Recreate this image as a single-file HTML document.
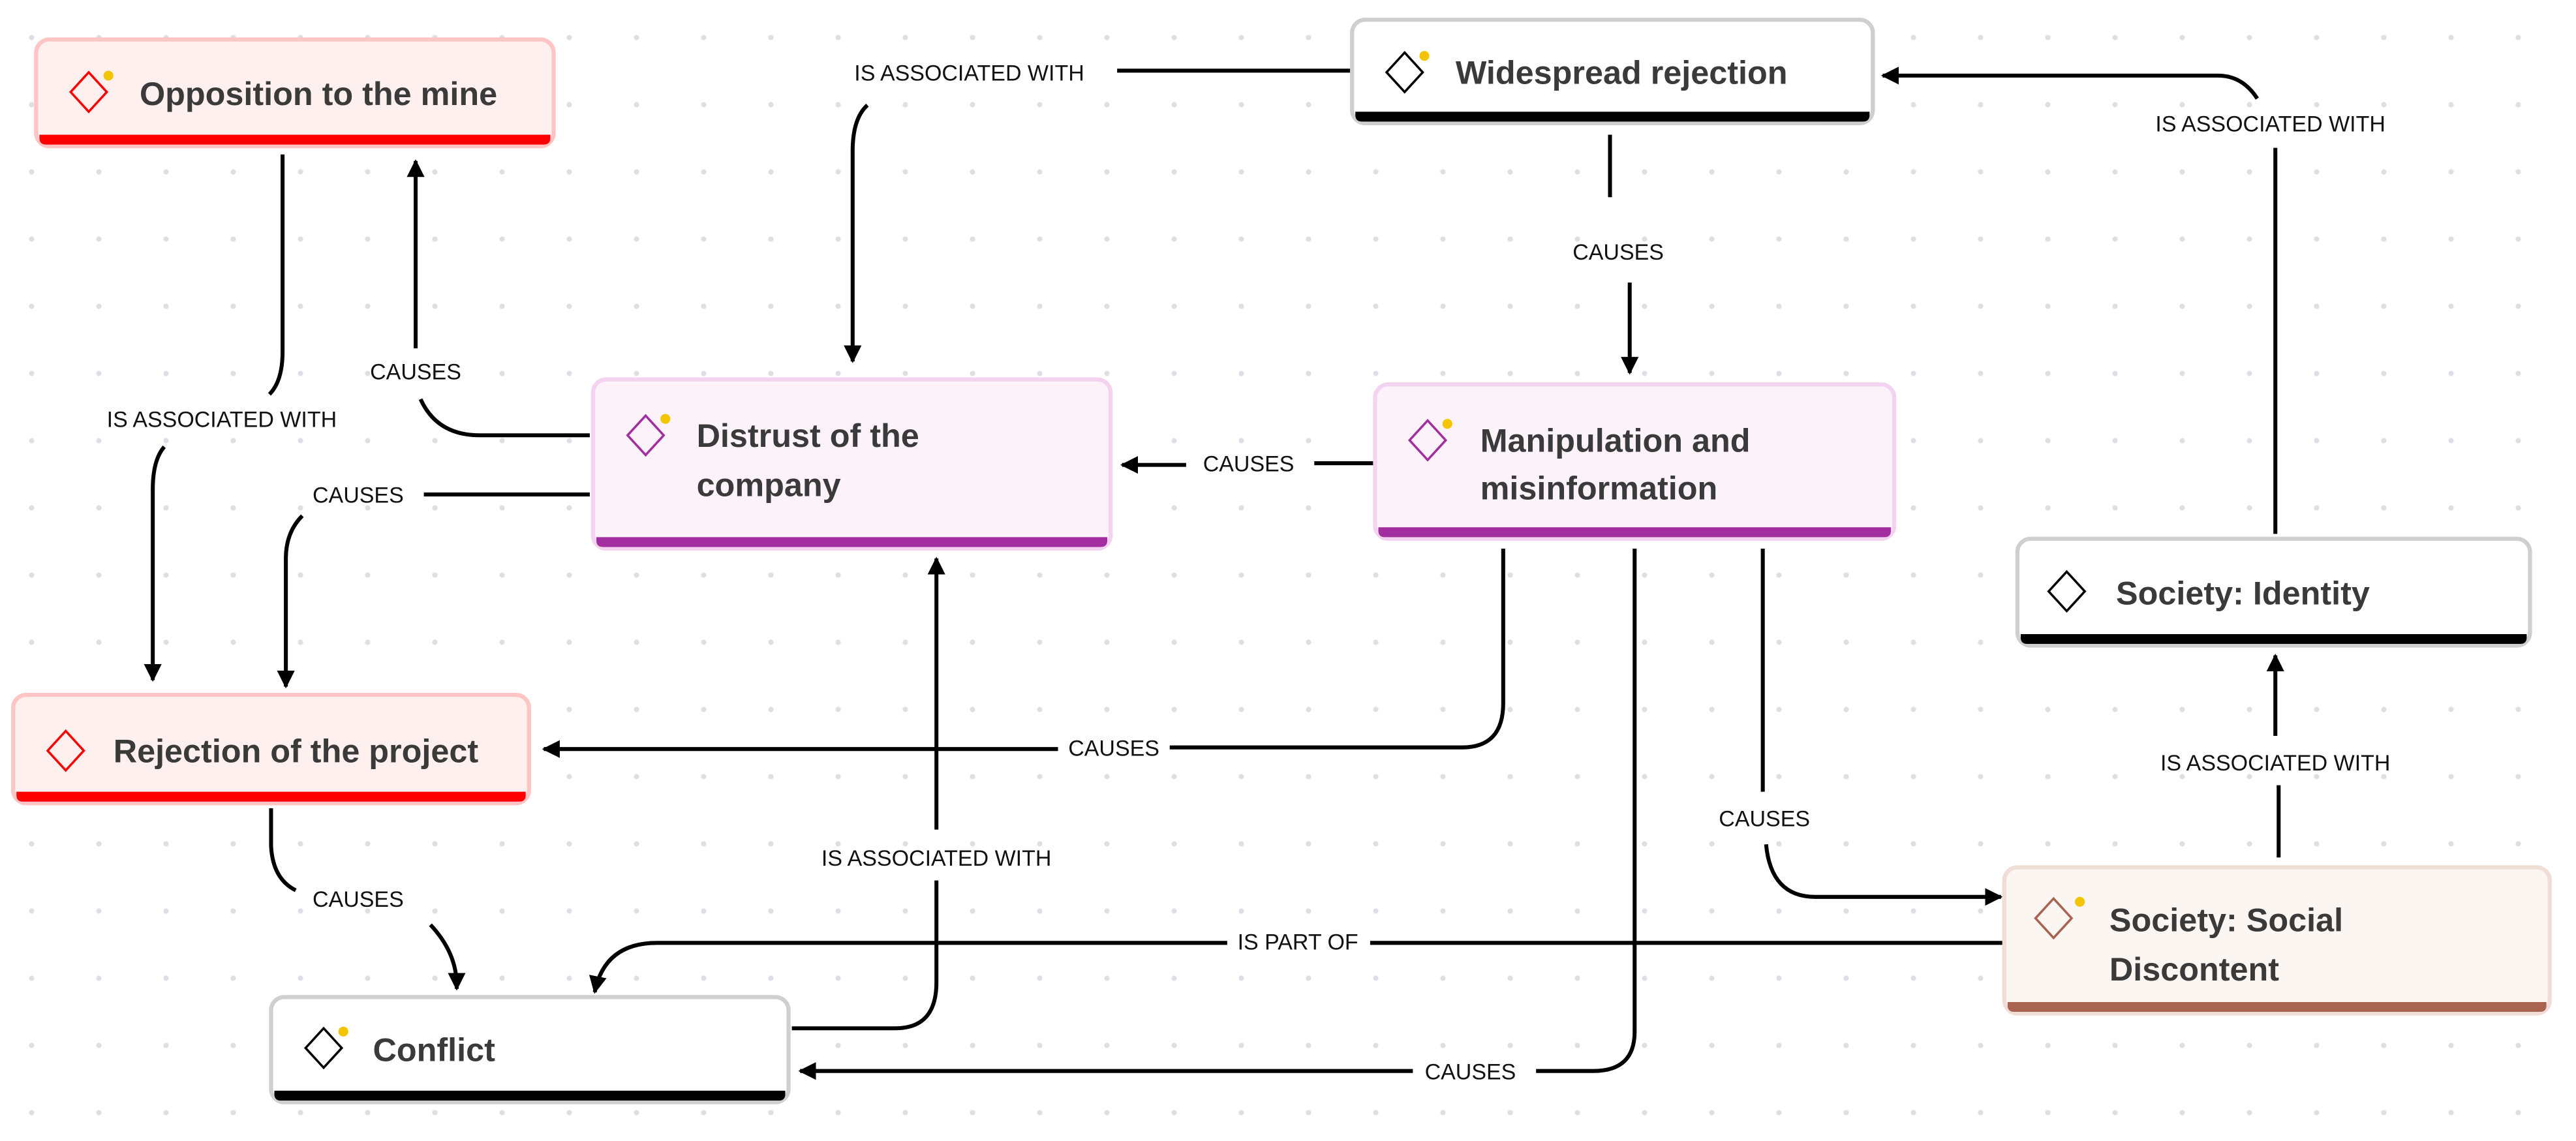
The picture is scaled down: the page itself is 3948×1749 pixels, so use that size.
<!DOCTYPE html>
<html><head><meta charset="utf-8"><style>
html,body{margin:0;padding:0;background:#fff;}
body{width:3948px;height:1749px;overflow:hidden;
background-image:radial-gradient(circle,#dedee4 3.5px,transparent 4.5px);
background-size:103px 103px;background-position:-3px 6px;}
svg{position:absolute;left:0;top:0;}
.nt{font-family:"Liberation Sans",sans-serif;font-size:20px;font-weight:bold;fill:#3a3a3a;}
.el{font-family:"Liberation Sans",sans-serif;font-size:13.5px;fill:#111;text-anchor:middle;}
.e{fill:none;stroke:#000;stroke-width:2.4;}
</style></head><body>
<svg width="3948" height="1749" viewBox="0 0 1568 694.6">
<defs>
<marker id="a" viewBox="0 0 10 10" refX="9" refY="5" markerWidth="4.5" markerHeight="4.5" orient="auto-start-reverse" markerUnits="strokeWidth">
<path d="M0,0 L10,5 L0,10 z" fill="#000"/></marker>
</defs>

<path class="e" d="M823,43 H680"/>
<text class="el" x="590" y="49">IS ASSOCIATED WITH</text>
<path class="e" d="M528,64 Q519,72 519,92 V220" marker-end="url(#a)"/>

<path class="e" d="M1385,325 V90"/>
<text class="el" x="1382" y="80">IS ASSOCIATED WITH</text>
<path class="e" d="M1374,60 Q1365,46 1350,46 H1146" marker-end="url(#a)"/>

<path class="e" d="M980,82 V120"/>
<text class="el" x="985" y="158">CAUSES</text>
<path class="e" d="M992,172 V227" marker-end="url(#a)"/>

<path class="e" d="M172,94 V214 Q172,232 164,240"/>
<text class="el" x="135" y="260">IS ASSOCIATED WITH</text>
<path class="e" d="M100,272 Q93,280 93,298 V414" marker-end="url(#a)"/>

<path class="e" d="M359,265 H292 Q266,265 256,243"/>
<text class="el" x="253" y="231">CAUSES</text>
<path class="e" d="M253,212 V98" marker-end="url(#a)"/>

<path class="e" d="M359,301 H258"/>
<text class="el" x="218" y="306">CAUSES</text>
<path class="e" d="M184,314 Q174,324 174,340 V418" marker-end="url(#a)"/>

<path class="e" d="M836,282 H800"/>
<text class="el" x="760" y="287">CAUSES</text>
<path class="e" d="M722,283 H683" marker-end="url(#a)"/>

<path class="e" d="M915,334 V428 Q915,455 890,455 H712"/>
<text class="el" x="678" y="460">CAUSES</text>
<path class="e" d="M644,456 H331" marker-end="url(#a)"/>

<path class="e" d="M995,334 V628 Q995,652 970,652 H935"/>
<text class="el" x="895" y="657">CAUSES</text>
<path class="e" d="M860,652 H487" marker-end="url(#a)"/>

<path class="e" d="M1073,334 V482"/>
<text class="el" x="1074" y="503">CAUSES</text>
<path class="e" d="M1075,514 Q1078,546 1105,546 H1218" marker-end="url(#a)"/>

<path class="e" d="M1387,522 V478"/>
<text class="el" x="1385" y="469">IS ASSOCIATED WITH</text>
<path class="e" d="M1385,448 V399" marker-end="url(#a)"/>

<path class="e" d="M1220,574 H834"/>
<text class="el" x="790" y="578">IS PART OF</text>
<path class="e" d="M747,574 H400 Q368,574 362,604" marker-end="url(#a)"/>

<path class="e" d="M482,626 H545 Q570,626 570,598 V536"/>
<text class="el" x="570" y="527">IS ASSOCIATED WITH</text>
<path class="e" d="M570,505 V340" marker-end="url(#a)"/>

<path class="e" d="M165,492 V515 Q166,535 180,542"/>
<text class="el" x="218" y="552">CAUSES</text>
<path class="e" d="M262,563 Q278,580 278,600 V602" marker-end="url(#a)"/>

<g>
<rect x="22" y="24" width="315" height="65" rx="8" fill="#fff0f0" stroke="#ffc4c4" stroke-width="2.5"/>
<path d="M24,82 H335 V84 Q335,88 331,88 H28 Q24,88 24,84 Z" fill="#ff0000"/>
<path d="M54,44 L65,56 L54,68 L43,56 Z" fill="none" stroke="#f00" stroke-width="1.4"/>
<circle cx="66" cy="46" r="3" fill="#f5c400"/>
<text class="nt" x="85" y="64">Opposition to the mine</text>
</g>
<g>
<rect x="823" y="12" width="317" height="63" rx="8" fill="#fff" stroke="#cfcfcf" stroke-width="2.5"/>
<path d="M825,68 H1138 V70 Q1138,74 1134,74 H829 Q825,74 825,70 Z" fill="#000"/>
<path d="M855,32 L866,44 L855,56 L844,44 Z" fill="none" stroke="#000" stroke-width="1.4"/>
<circle cx="867" cy="34" r="3" fill="#f5c400"/>
<text class="nt" x="886" y="51">Widespread rejection</text>
</g>
<g>
<rect x="361" y="231" width="315" height="103" rx="8" fill="#fcf2fa" stroke="#f3d3f0" stroke-width="2.5"/>
<path d="M363,327 H674 V329 Q674,333 670,333 H367 Q363,333 363,329 Z" fill="#a22ea0"/>
<path d="M393,253 L404,265 L393,277 L382,265 Z" fill="none" stroke="#a22ea0" stroke-width="1.4"/>
<circle cx="405" cy="255" r="3" fill="#f5c400"/>
<text class="nt" x="424" y="272">Distrust of the</text>
<text class="nt" x="424" y="302">company</text>
</g>
<g>
<rect x="837" y="234" width="316" height="94" rx="8" fill="#fcf2fa" stroke="#f3d3f0" stroke-width="2.5"/>
<path d="M839,321 H1151 V323 Q1151,327 1147,327 H843 Q839,327 839,323 Z" fill="#a22ea0"/>
<path d="M869,256 L880,268 L869,280 L858,268 Z" fill="none" stroke="#a22ea0" stroke-width="1.4"/>
<circle cx="881" cy="258" r="3" fill="#f5c400"/>
<text class="nt" x="901" y="275">Manipulation and</text>
<text class="nt" x="901" y="304">misinformation</text>
</g>
<g>
<rect x="1228" y="328" width="312" height="65" rx="8" fill="#fff" stroke="#cfcfcf" stroke-width="2.5"/>
<path d="M1230,386 H1538 V388 Q1538,392 1534,392 H1234 Q1230,392 1230,388 Z" fill="#000"/>
<path d="M1258,348 L1269,360 L1258,372 L1247,360 Z" fill="none" stroke="#000" stroke-width="1.4"/>
<text class="nt" x="1288" y="368">Society: Identity</text>
</g>
<g>
<rect x="8" y="423" width="314" height="66" rx="8" fill="#fff0f0" stroke="#ffc4c4" stroke-width="2.5"/>
<path d="M10,482 H320 V484 Q320,488 316,488 H14 Q10,488 10,484 Z" fill="#ff0000"/>
<path d="M40,445 L51,457 L40,469 L29,457 Z" fill="none" stroke="#f00" stroke-width="1.4"/>
<text class="nt" x="69" y="464">Rejection of the project</text>
</g>
<g>
<rect x="1220" y="528" width="332" height="89" rx="8" fill="#fcf6f3" stroke="#f0ddd6" stroke-width="2.5"/>
<path d="M1222,610 H1550 V612 Q1550,616 1546,616 H1226 Q1222,616 1222,612 Z" fill="#a86450"/>
<path d="M1250,547 L1261,559 L1250,571 L1239,559 Z" fill="none" stroke="#a86450" stroke-width="1.4"/>
<circle cx="1266" cy="549" r="3" fill="#f5c400"/>
<text class="nt" x="1284" y="567">Society: Social</text>
<text class="nt" x="1284" y="597">Discontent</text>
</g>
<g>
<rect x="165" y="607" width="315" height="64" rx="8" fill="#fff" stroke="#cfcfcf" stroke-width="2.5"/>
<path d="M167,664 H478 V666 Q478,670 474,670 H171 Q167,670 167,666 Z" fill="#000"/>
<path d="M197,626 L208,638 L197,650 L186,638 Z" fill="none" stroke="#000" stroke-width="1.4"/>
<circle cx="209" cy="628" r="3" fill="#f5c400"/>
<text class="nt" x="227" y="646">Conflict</text>
</g>
</svg>
</body></html>
